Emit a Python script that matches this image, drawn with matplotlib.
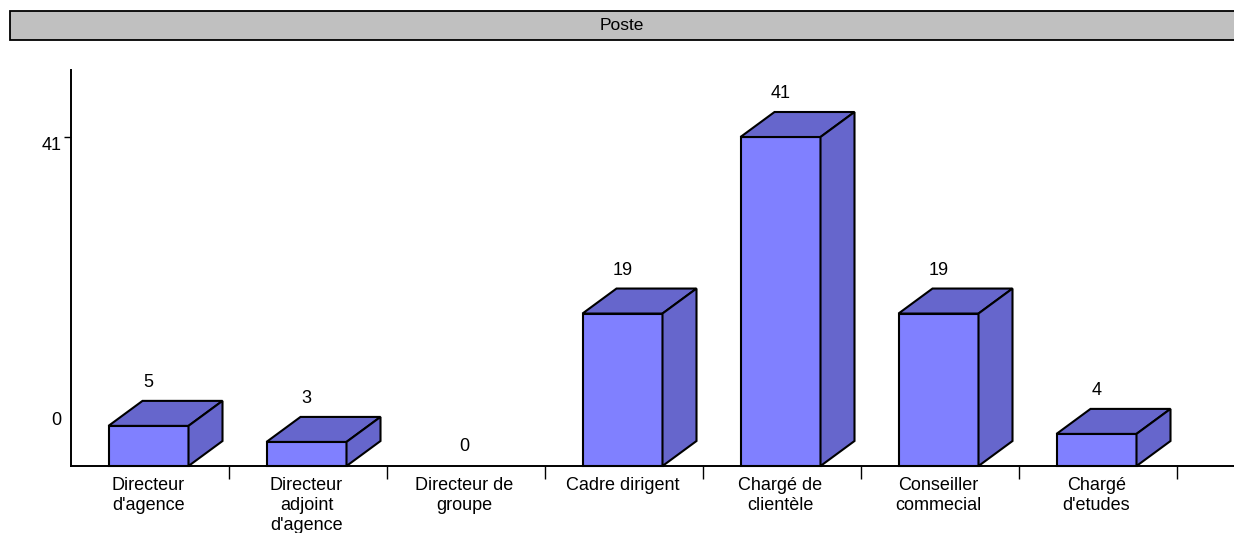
import matplotlib
matplotlib.use("Agg")
import matplotlib.pyplot as plt
from matplotlib.patches import Polygon, Rectangle

plt.rcParams['font.family'] = ['Liberation Sans', 'DejaVu Sans']

title = "Poste"
categories = ["Directeur\nd'agence", "Directeur\nadjoint\nd'agence", "Directeur de\ngroupe",
              "Cadre dirigent", "Chargé de\nclientèle", "Conseiller\ncommecial", "Chargé\nd'etudes"]
values = [5, 3, 0, 19, 41, 19, 4]

W, H = 1234, 533
fig = plt.figure(figsize=(W / 100, H / 100), dpi=100)

# title banner
fig.patches.append(Rectangle((10 / W, 1 - 40 / H), 1.0, 29 / H, transform=fig.transFigure,
                             facecolor="#c0c0c0", edgecolor="black", linewidth=1.3))
fig.text(622 / W, 1 - 26 / H, title, ha="center", va="center", fontsize=12.5)

# plotting area in pixel layout
left, right, bottom, top = 71, 1234, 466, 70
ax = fig.add_axes([left / W, 1 - bottom / H, (right - left) / W, (bottom - top) / H])
slot = 158.0
ppu = (466 - 137) / 41.0
ax.set_xlim(-0.5, (right - left) / slot - 0.5)
ax.set_ylim(0, (bottom - top) / ppu)

front = "#8080ff"
shade = "#6666cc"
bw = 80 / slot
dx = 34 / slot
dy = 25 / ppu
shift = -1.5 / slot
lw = 1.5
fs = 13

for i, v in enumerate(values):
    c = i + shift
    if v > 0:
        x0, x1 = c - bw / 2, c + bw / 2
        ax.add_patch(Polygon([(x0, 0), (x1, 0), (x1, v), (x0, v)], closed=True,
                             facecolor=front, edgecolor="black", linewidth=lw, clip_on=False, zorder=3))
        ax.add_patch(Polygon([(x0, v), (x1, v), (x1 + dx, v + dy), (x0 + dx, v + dy)], closed=True,
                             facecolor=shade, edgecolor="black", linewidth=lw, clip_on=False, zorder=3))
        ax.add_patch(Polygon([(x1, 0), (x1 + dx, dy), (x1 + dx, v + dy), (x1, v)], closed=True,
                             facecolor=shade, edgecolor="black", linewidth=lw, clip_on=False, zorder=3))
        ax.annotate(str(v), (c, v), xytext=(0, 31), textcoords="offset points",
                    ha="center", va="center", fontsize=fs)
    else:
        ax.annotate(str(v), (c, v), xytext=(0, 14), textcoords="offset points",
                    ha="center", va="center", fontsize=fs)

for s in ("top", "right"):
    ax.spines[s].set_visible(False)
for s in ("left", "bottom"):
    ax.spines[s].set_linewidth(1.4)

ax.set_xticks([i + 0.5 for i in range(len(values))])
ax.set_xticklabels([])
ax.tick_params(axis="x", length=9.5, width=1.0, direction="out")
for i, c in enumerate(categories):
    ax.annotate(c, (i + shift, 0), xytext=(0, -8), textcoords="offset points",
                ha="center", va="top", fontsize=fs, linespacing=1.22,
                annotation_clip=False)

ax.set_yticks([41])
ax.set_yticklabels([])
ax.tick_params(axis="y", length=5, width=1.0, direction="out")
ax.annotate("41", (0, 41), xycoords=("axes fraction", "data"), xytext=(-7, -6),
            textcoords="offset points", ha="right", va="center", fontsize=fs)
ax.annotate("0", (0, 0), xycoords=("axes fraction", "data"), xytext=(-7, 33),
            textcoords="offset points", ha="right", va="center", fontsize=fs)

fig.savefig("out.png", dpi=100)
